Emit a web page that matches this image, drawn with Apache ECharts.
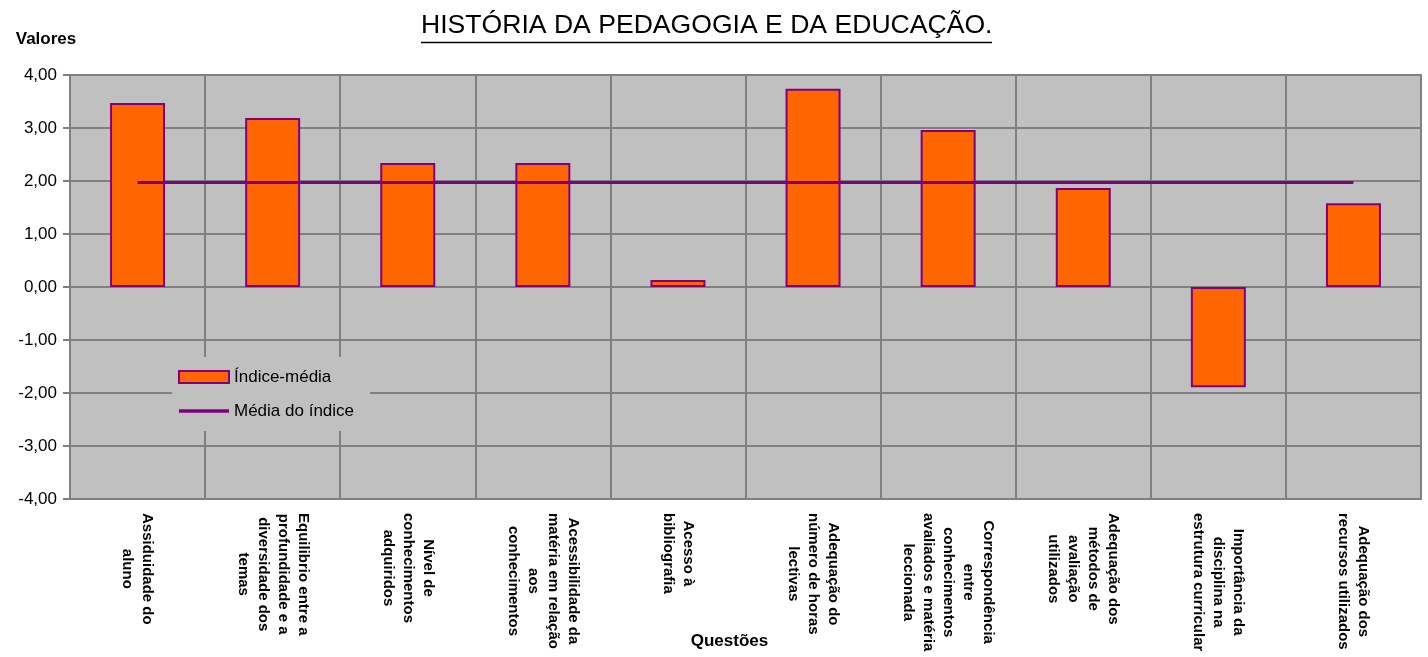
<!DOCTYPE html>
<html lang="pt">
<head>
<meta charset="UTF-8">
<title>História da Pedagogia e da Educação</title>
<script src="https://cdn.jsdelivr.net/npm/echarts@6/dist/echarts.min.js"></script>
<style>
  body { margin: 0; background: #ffffff; overflow: hidden; }
  #chart { width: 1428px; height: 657px; }
</style>
</head>
<body>
<div id="chart"></div>
<script>
// questões (eixo das categorias)
const questoes = [
  'Assiduidade do\naluno',
  'Equilibrio entre a\nprofundidade e a\ndiversidade dos\ntemas',
  'Nível de\nconhecimentos\nadquiridos',
  'Acessibilidade da\nmatéria em relação\naos\nconhecimentos',
  'Acesso à\nbibliografia',
  'Adequação do\nnúmero de horas\nlectivas',
  'Correspondência\nentre\nconhecimentos\navaliados e matéria\nleccionada',
  'Adequação dos\nmétodos de\navaliação\nutilizados',
  'Importância da\ndisciplina na\nestrutura curricular',
  'Adequação dos\nrecursos utilizados'
]

// Índice-média (barras)
const indiceMedia = [3.47, 3.19, 2.34, 2.34, 0.13, 3.74, 2.96, 1.87, -1.89, 1.58]

// Média do índice (linha)
const mediaIndice = [1.97, 1.97, 1.97, 1.97, 1.97, 1.97, 1.97, 1.97, 1.97, 1.97]

const FONT = '"Liberation Sans", Arial, sans-serif'
const GRID_GRAY = '#808080'

const chart = echarts.init(document.getElementById('chart'), null, { renderer: 'canvas' })

chart.setOption({
  animation: false,
  textStyle: { fontFamily: FONT, color: '#000' },
  graphic: [
    {
      type: 'text',
      x: 421,
      y: 14,
      scaleX: 1.063,
      style: {
        text: 'HISTÓRIA DA PEDAGOGIA E DA EDUCAÇÃO.',
        font: '25px ' + FONT,
        fill: '#000'
      }
    },
    {
      type: 'line',
      shape: { x1: 421, y1: 42.5, x2: 992, y2: 42.5 },
      style: { stroke: '#000', lineWidth: 1.5 }
    }
  ],
  legend: {
    orient: 'vertical',
    left: 172,
    top: 357,
    padding: [11, 16, 11, 6],
    backgroundColor: '#c0c0c0',
    itemWidth: 50,
    itemHeight: 12,
    itemGap: 16,
    textStyle: { fontSize: 17, lineHeight: 18, color: '#000', fontFamily: FONT },
    data: [
      { name: 'Índice-média', icon: 'rect' },
      { name: 'Média do índice', icon: 'path://M0 0H50V3.5H0Z' }
    ]
  },
  grid: {
    left: 70,
    top: 75,
    right: 7,
    bottom: 158,
    outerBoundsMode: 'none',
    show: true,
    backgroundColor: '#c0c0c0',
    borderColor: GRID_GRAY,
    borderWidth: 2
  },
  xAxis: {
    type: 'category',
    data: questoes,
    boundaryGap: true,
    name: 'Questões',
    nameLocation: 'middle',
    nameGap: 134,
    nameMoveOverlap: false,
    nameTextStyle: { fontSize: 17, fontWeight: 'bold', color: '#000', padding: [0, 32, 0, 0] },
    axisLine: { onZero: false, lineStyle: { color: GRID_GRAY, width: 2 } },
    axisTick: { show: false },
    splitLine: { show: true, interval: 0, lineStyle: { color: GRID_GRAY, width: 2 } },
    axisLabel: {
      interval: 0,
      rotate: -90,
      margin: 14,
      hideOverlap: false,
      formatter: v => v.split('\n').map(s => '{c|' + s + '}').join('\n'),
      rich: {
        c: {
          align: 'center',
          fontSize: 15,
          fontWeight: 'bold',
          lineHeight: 20,
          color: '#000',
          fontFamily: FONT
        }
      }
    }
  },
  yAxis: {
    type: 'value',
    min: -4,
    max: 4,
    interval: 1,
    name: 'Valores',
    nameLocation: 'end',
    nameGap: 36,
    nameTextStyle: {
      fontSize: 17, fontWeight: 'bold', color: '#000',
      align: 'center', verticalAlign: 'middle', padding: [0, 48, 0, 0]
    },
    axisLine: { show: true, lineStyle: { color: GRID_GRAY, width: 2 } },
    axisTick: { show: true, length: 7, lineStyle: { color: GRID_GRAY, width: 2 } },
    splitLine: { show: true, lineStyle: { color: GRID_GRAY, width: 2 } },
    axisLabel: {
      fontSize: 17,
      color: '#000',
      margin: 13,
      formatter: v => v.toFixed(2).replace('.', ',')
    }
  },
  series: [
    {
      name: 'Índice-média',
      type: 'bar',
      data: indiceMedia,
      barWidth: 55,
      itemStyle: { color: '#ff6600', borderColor: '#800080', borderWidth: 2 }
    },
    {
      name: 'Média do índice',
      type: 'line',
      data: mediaIndice,
      symbol: 'none',
      z: 5,
      lineStyle: { color: '#800080', width: 3 },
      itemStyle: { color: '#800080' }
    }
  ]
})
</script>
</body>
</html>
